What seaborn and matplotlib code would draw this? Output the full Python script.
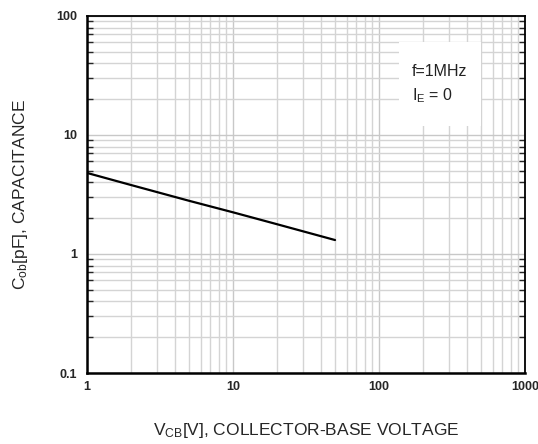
import pandas as pd
import matplotlib
matplotlib.use("Agg")
import matplotlib.pyplot as plt
import matplotlib.ticker as mticker
from matplotlib.patches import Rectangle
import seaborn as sns

# Cob vs Vcb
vcb = [1, 2, 5, 10, 20, 50]
cob = [4.8, 3.8, 2.8, 2.24, 1.78, 1.31]

x_ticks = [1, 10, 100, 1000]
x_tick_labels = ["1", "10", "100", "1000"]
y_ticks = [0.1, 1, 10, 100]
y_tick_labels = ["0.1", "1", "10", "100"]

notes = ["f=1MHz", r"I$_{\mathregular{E}}$ = 0"]

sns.set_style("white")
plt.rcParams["font.family"] = ["Liberation Sans", "DejaVu Sans"]
plt.rcParams["mathtext.fontset"] = "custom"
plt.rcParams["mathtext.rm"] = "Liberation Sans"
plt.rcParams["mathtext.default"] = "regular"

df = pd.DataFrame({"vcb": vcb, "cob": cob})

fig = plt.figure(figsize=(5.38, 4.44), dpi=100)
ax = fig.add_axes([0.1617, 0.1599, 0.8141, 0.8041])

ax.set_xscale("log")
ax.set_yscale("log")
ax.set_xlim(1, 1000)
ax.set_ylim(0.1, 100)

ax.xaxis.set_minor_locator(mticker.LogLocator(base=10, subs=range(2, 10)))
ax.yaxis.set_minor_locator(mticker.LogLocator(base=10, subs=range(2, 10)))
ax.grid(True, which="major", color="#c8c8c8", linewidth=1.0)
ax.grid(True, which="minor", color="#d4d4d4", linewidth=1.0)
ax.set_axisbelow(True)

# white box behind the test conditions
ax.add_patch(Rectangle((137, 12), 500 - 137, 60 - 12, facecolor="white",
                       edgecolor="none", zorder=1.5))

sns.lineplot(data=df, x="vcb", y="cob", ax=ax, color="black",
             linewidth=1.6, zorder=3)

ax.set_xticks(x_ticks)
ax.set_xticklabels(x_tick_labels)
ax.set_yticks(y_ticks)
ax.set_yticklabels(y_tick_labels)
ax.tick_params(axis="x", which="major", labelsize=9, length=0, pad=6)
ax.tick_params(axis="y", which="major", labelsize=9, length=0, pad=7)
ax.tick_params(axis="y", which="minor", direction="in", length=4,
               left=True, right=True, width=1)
ax.tick_params(axis="x", which="minor", length=0)
for lab in ax.get_xticklabels() + ax.get_yticklabels():
    lab.set_fontweight("bold")

for side in ["left", "bottom"]:
    ax.spines[side].set_linewidth(1.8)
for side in ["top", "right"]:
    ax.spines[side].set_linewidth(1.3)
for s in ax.spines.values():
    s.set_color("black")

ax.text(168, 34, notes[0], fontsize=11.5, color="#222222", va="center")
ax.text(168, 21.5, notes[1], fontsize=11.5, color="#222222", va="center")

ax.set_xlabel(r"V$_{\mathregular{CB}}$[V], COLLECTOR-BASE VOLTAGE",
              fontsize=12.5, labelpad=20)
ax.set_ylabel(r"C$_{\mathregular{ob}}$[pF], CAPACITANCE", fontsize=12.5,
              labelpad=19)

fig.savefig("out.png", dpi=100)
